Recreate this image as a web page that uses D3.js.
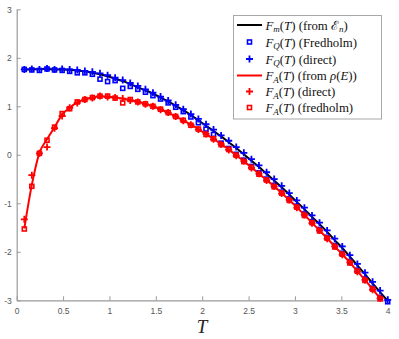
<!DOCTYPE html>
<html>
<head>
<meta charset="utf-8">
<script src="https://cdn.jsdelivr.net/npm/d3@7/dist/d3.min.js"></script>
<style>
  body { margin: 0; background: #fff; }
  svg { display: block; }
</style>
</head>
<body>
<script>
var width = 399;
var height = 339;

// temperature grid (49 points up to 4)
var T = [0.082, 0.163, 0.245, 0.327, 0.408, 0.490, 0.571, 0.653, 0.735, 0.816,
         0.898, 0.980, 1.061, 1.143, 1.224, 1.306, 1.388, 1.469, 1.551, 1.633,
         1.714, 1.796, 1.878, 1.959, 2.041, 2.122, 2.204, 2.286, 2.367, 2.449,
         2.531, 2.612, 2.694, 2.776, 2.857, 2.939, 3.020, 3.102, 3.184, 3.265,
         3.347, 3.429, 3.510, 3.592, 3.673, 3.755, 3.837, 3.918, 4.000];

var fmLine = [1.76, 1.76, 1.77, 1.77, 1.76, 1.76, 1.75, 1.74, 1.72, 1.69,
              1.66, 1.62, 1.57, 1.52, 1.46, 1.39, 1.33, 1.26, 1.18, 1.10,
              1.01, 0.92, 0.82, 0.71, 0.60, 0.49, 0.38, 0.26, 0.14, 0.01,
              -0.12, -0.25, -0.39, -0.53, -0.67, -0.82, -0.97, -1.12, -1.28, -1.43,
              -1.59, -1.76, -1.92, -2.10, -2.28, -2.46, -2.65, -2.83, -3.01];

var fqFredholm = [1.76, 1.75, 1.74, 1.77, 1.75, 1.74, 1.72, 1.69, 1.69, 1.66,
                  1.56, 1.51, 1.53, 1.37, 1.41, 1.35, 1.29, 1.22, 1.15, 1.07,
                  0.98, 0.89, 0.78, 0.66, 0.53, 0.42, 0.24, 0.13, 0.01, -0.11,
                  -0.24, -0.37, -0.50, -0.63, -0.77, -0.91, -1.06, -1.22, -1.38, -1.54,
                  -1.70, -1.87, -2.03, -2.20, -2.38, -2.56, -2.75, -2.94, -3.03];

var fqDirect = [1.76, 1.77, 1.76, 1.78, 1.76, 1.77, 1.76, 1.75, 1.73, 1.71,
                1.68, 1.64, 1.59, 1.54, 1.48, 1.42, 1.35, 1.28, 1.20, 1.12,
                1.03, 0.94, 0.84, 0.74, 0.63, 0.52, 0.40, 0.29, 0.16, 0.04,
                -0.09, -0.22, -0.36, -0.50, -0.64, -0.79, -0.94, -1.09, -1.25, -1.40,
                -1.56, -1.73, -1.89, -2.07, -2.25, -2.43, -2.62, -2.80, -2.99];

// F_A series stop one step earlier (T = 3.918)
var faLine = [-1.52, -0.62, 0.04, 0.32, 0.57, 0.83, 0.97, 1.08, 1.14, 1.18,
              1.20, 1.20, 1.18, 1.16, 1.13, 1.09, 1.05, 1.00, 0.94, 0.87,
              0.79, 0.71, 0.62, 0.53, 0.43, 0.33, 0.22, 0.11, -0.01, -0.13,
              -0.26, -0.39, -0.52, -0.65, -0.79, -0.93, -1.08, -1.24, -1.40, -1.56,
              -1.72, -1.89, -2.05, -2.22, -2.40, -2.58, -2.77, -2.96];

var faDirect = [-1.33, -0.42, 0.03, 0.16, 0.55, 0.80, 0.97, 1.07, 1.14, 1.17,
                1.21, 1.19, 1.18, 1.16, 1.12, 1.09, 1.04, 1.00, 0.93, 0.87,
                0.79, 0.70, 0.62, 0.52, 0.43, 0.32, 0.22, 0.10, -0.02, -0.13,
                -0.27, -0.39, -0.53, -0.65, -0.80, -0.93, -1.09, -1.24, -1.41, -1.56,
                -1.73, -1.89, -2.06, -2.22, -2.41, -2.58, -2.78, -2.96];

var faFredholm = [-1.53, -0.65, 0.03, 0.30, 0.57, 0.85, 0.95, 1.09, 1.14, 1.18,
                  1.21, 1.21, 1.17, 1.07, 1.14, 1.09, 1.05, 1.00, 0.94, 0.87,
                  0.79, 0.71, 0.61, 0.53, 0.42, 0.33, 0.21, 0.11, -0.01, -0.14,
                  -0.26, -0.40, -0.52, -0.66, -0.79, -0.94, -1.08, -1.25, -1.40, -1.57,
                  -1.72, -1.90, -2.05, -2.23, -2.40, -2.59, -2.77, -2.97];

var xTicks = [0, 0.5, 1, 1.5, 2, 2.5, 3, 3.5, 4];
var yTicks = [-3, -2, -1, 0, 1, 2, 3];

var BLUE = "#0000ff";
var RED = "#ff0000";

var svg = d3.select("body").append("svg").attr("width", width).attr("height", height);

var x = d3.scaleLinear().domain([0, 4]).range([16.7, 387.7]);
var y = d3.scaleLinear().domain([-3, 3]).range([300.3, 9.3]);

function pts(vals) {
    return vals.map(function (v, i) { return [T[i], v]; });
}

// axes (MATLAB style, ticks inward, no box)
var xAxis = svg.append("g")
    .attr("transform", "translate(0," + y(-3) + ")")
    .call(d3.axisBottom(x).tickValues(xTicks).tickSizeInner(-4).tickSizeOuter(0)
        .tickPadding(8).tickFormat(function (d) { return String(d); }));
var yAxis = svg.append("g")
    .attr("transform", "translate(" + x(0) + ",0)")
    .call(d3.axisLeft(y).tickValues(yTicks).tickSizeInner(-4).tickSizeOuter(0)
        .tickPadding(5).tickFormat(function (d) { return String(d); }));
[xAxis, yAxis].forEach(function (g) {
    g.select(".domain").attr("stroke", "#9a9a9a").attr("stroke-width", 1.2);
    g.selectAll(".tick line").attr("stroke", "#9a9a9a");
    g.selectAll(".tick text")
        .attr("fill", "#555")
        .style("font-family", "'Liberation Sans', Arial, sans-serif")
        .style("font-size", "8.5px");
});

svg.append("text")
    .attr("x", 202).attr("y", 333)
    .attr("text-anchor", "middle")
    .style("font-family", "'Liberation Serif', 'Times New Roman', serif")
    .style("font-style", "italic")
    .style("font-size", "19px")
    .attr("fill", "#222")
    .text("T");

var line = d3.line()
    .x(function (d) { return x(d[0]); })
    .y(function (d) { return y(d[1]); })
    .curve(d3.curveMonotoneX);

function plus(g, data, color) {
    g.selectAll(null).data(data).enter().append("path")
        .attr("d", function (d) {
            var cx = x(d[0]), cy = y(d[1]), r = 3.5;
            return "M" + (cx - r) + "," + cy + "H" + (cx + r) + "M" + cx + "," + (cy - r) + "V" + (cy + r);
        })
        .attr("stroke", color).attr("stroke-width", 1.8).attr("fill", "none");
}

function squares(g, data, color) {
    g.selectAll(null).data(data).enter().append("rect")
        .attr("x", function (d) { return x(d[0]) - 2; })
        .attr("y", function (d) { return y(d[1]) - 2; })
        .attr("width", 4).attr("height", 4)
        .attr("stroke", color).attr("stroke-width", 1.6).attr("fill", "none");
}

var plot = svg.append("g");
plot.append("path").datum(pts(fmLine)).attr("d", line)
    .attr("fill", "none").attr("stroke", "#000").attr("stroke-width", 2);
squares(plot.append("g"), pts(fqFredholm), BLUE);
plus(plot.append("g"), pts(fqDirect), BLUE);
plot.append("path").datum(pts(faLine)).attr("d", line)
    .attr("fill", "none").attr("stroke", RED).attr("stroke-width", 2);
plus(plot.append("g"), pts(faDirect), RED);
squares(plot.append("g"), pts(faFredholm), RED);

// legend
var legend = svg.append("g");
legend.append("rect")
    .attr("x", 233.5).attr("y", 15.5).attr("width", 148).attr("height", 103.5)
    .attr("fill", "#fff").attr("stroke", "#a8a8a8").attr("stroke-width", 1);

var entries = [
    {kind: "line", color: "#000", sub: "m", rest: [[" (from ", false], ["ℰ", false], ["n", "sub"], [")", false]]},
    {kind: "square", color: BLUE, sub: "Q", rest: [[" (Fredholm)", false]]},
    {kind: "plus", color: BLUE, sub: "Q", rest: [[" (direct)", false]]},
    {kind: "line", color: RED, sub: "A", rest: [[" (from ", false], ["ρ", "it"], ["(", false], ["E", "it"], ["))", false]]},
    {kind: "plus", color: RED, sub: "A", rest: [[" (direct)", false]]},
    {kind: "square", color: RED, sub: "A", rest: [[" (fredholm)", false]]}
];
var rowY = [25, 42, 59, 75.5, 91.5, 107.5];

entries.forEach(function (e, i) {
    var cy = rowY[i];
    var g = legend.append("g");
    if (e.kind === "line") {
        g.append("line").attr("x1", 237).attr("x2", 262).attr("y1", cy).attr("y2", cy)
            .attr("stroke", e.color).attr("stroke-width", 2);
    } else if (e.kind === "square") {
        g.append("rect").attr("x", 249.5 - 2).attr("y", cy - 2).attr("width", 4).attr("height", 4)
            .attr("fill", "none").attr("stroke", e.color).attr("stroke-width", 1.6);
    } else {
        g.append("path").attr("d", "M" + (249.5 - 3.5) + "," + cy + "H" + (249.5 + 3.5) + "M249.5," + (cy - 3.5) + "V" + (cy + 3.5))
            .attr("stroke", e.color).attr("stroke-width", 1.8);
    }
    var t = g.append("text").attr("x", 265.5).attr("y", cy + 4.5)
        .style("font-family", "'Liberation Serif', 'DejaVu Serif', serif")
        .style("font-size", "12.8px").attr("fill", "#111");
    t.append("tspan").style("font-style", "italic").text("F");
    t.append("tspan").style("font-style", "italic").style("font-size", "9px").attr("dy", 2.5).text(e.sub);
    t.append("tspan").attr("dy", -2.5).text("(");
    t.append("tspan").style("font-style", "italic").text("T");
    t.append("tspan").text(")");
    var shifted = false;
    e.rest.forEach(function (r) {
        var s = t.append("tspan").text(r[0]);
        if (r[1] === "sub") {
            s.style("font-style", "italic").style("font-size", "9px").attr("dy", 2.5);
            shifted = true;
        } else {
            if (shifted) { s.attr("dy", -2.5); shifted = false; }
            if (r[1] === "it") s.style("font-style", "italic");
        }
    });
});
</script>
</body>
</html>
